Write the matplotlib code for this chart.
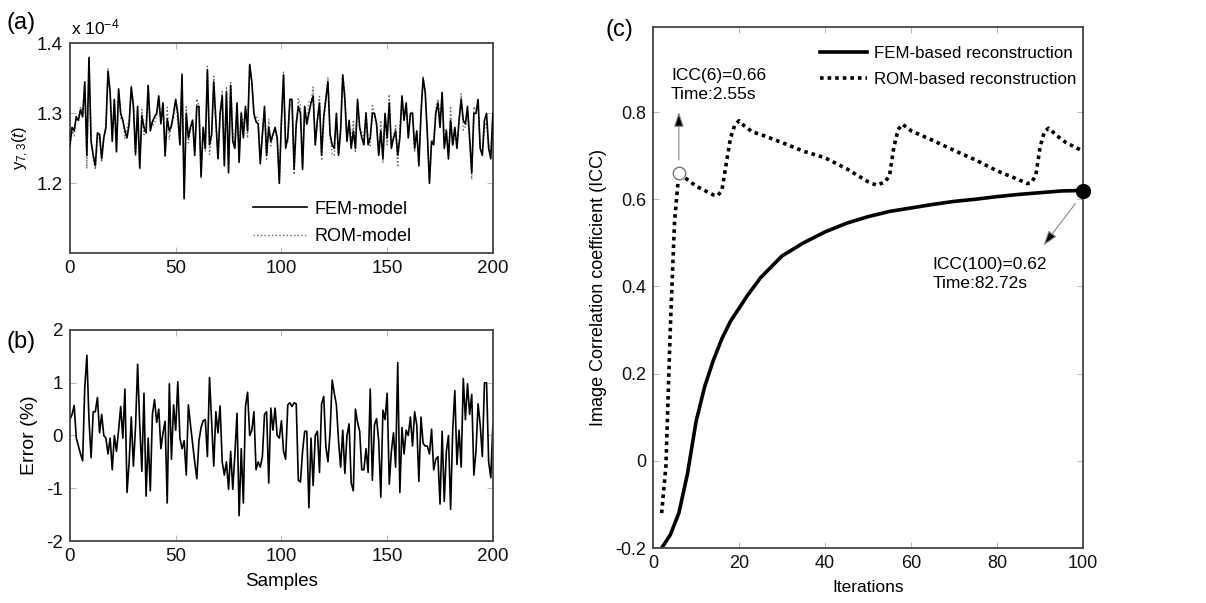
import numpy as np
import matplotlib
matplotlib.use('Agg')
import matplotlib.pyplot as plt

plt.rcParams['font.family'] = ['Liberation Sans', 'DejaVu Sans']
plt.rcParams['axes.unicode_minus'] = False
plt.rcParams['mathtext.fontset'] = 'custom'
plt.rcParams['mathtext.rm'] = 'Liberation Sans'
plt.rcParams['mathtext.it'] = 'Liberation Sans:italic'

# panel (a): output y_{7,3}(t), units of 1e-4
fem_y = [1.255, 1.28, 1.275, 1.295, 1.29, 1.305, 1.295, 1.345, 1.24, 1.38,
         1.26, 1.24, 1.225, 1.272, 1.27, 1.235, 1.265, 1.28, 1.36, 1.33,
         1.26, 1.32, 1.245, 1.335, 1.30, 1.29, 1.275, 1.265, 1.285, 1.338,
         1.31, 1.242, 1.31, 1.222, 1.297, 1.28, 1.272, 1.34, 1.275, 1.288,
         1.295, 1.30, 1.325, 1.285, 1.315, 1.24, 1.292, 1.275, 1.282, 1.30,
         1.32, 1.30, 1.255, 1.355, 1.178, 1.30, 1.265, 1.28, 1.29, 1.24,
         1.31, 1.31, 1.21, 1.28, 1.25, 1.362, 1.255, 1.27, 1.345, 1.29,
         1.235, 1.30, 1.325, 1.225, 1.33, 1.215, 1.34, 1.26, 1.25, 1.315,
         1.23, 1.30, 1.265, 1.31, 1.275, 1.37, 1.345, 1.30, 1.288, 1.285,
         1.228, 1.27, 1.31, 1.24, 1.28, 1.26, 1.27, 1.28, 1.265, 1.20,
         1.29, 1.355, 1.25, 1.265, 1.32, 1.32, 1.22, 1.285, 1.31, 1.30,
         1.22, 1.31, 1.285, 1.30, 1.315, 1.325, 1.255, 1.29, 1.315, 1.24,
         1.295, 1.32, 1.345, 1.27, 1.255, 1.25, 1.30, 1.24, 1.275, 1.355,
         1.32, 1.26, 1.29, 1.25, 1.275, 1.25, 1.32, 1.28, 1.265, 1.255,
         1.30, 1.255, 1.265, 1.30, 1.30, 1.285, 1.24, 1.275, 1.235, 1.30,
         1.265, 1.315, 1.25, 1.265, 1.275, 1.24, 1.265, 1.325, 1.29, 1.315,
         1.265, 1.30, 1.30, 1.25, 1.275, 1.225, 1.30, 1.35, 1.33, 1.27,
         1.20, 1.26, 1.255, 1.30, 1.315, 1.28, 1.33, 1.25, 1.275, 1.235,
         1.29, 1.255, 1.28, 1.25, 1.29, 1.32, 1.29, 1.285, 1.31, 1.265,
         1.215, 1.30, 1.30, 1.32, 1.25, 1.24, 1.29, 1.30, 1.25, 1.235,
         1.30]

# panel (b): relative error (%) between FEM and ROM
err_pct = [0.3, 0.4, 0.57, -0.05, -0.2, -0.35, -0.48, 0.9, 1.52, 0.3,
           -0.42, 0.45, 0.45, 0.72, 0.05, 0.4, 0.0, -0.05, -0.35, -0.05,
           -0.65, 0.0, -0.3, 0.1, 0.55, -0.05, 0.88, -1.08, -0.5, 0.35,
           -0.58, 0.15, 1.35, 0.2, -0.68, 0.8, -1.15, -0.05, -1.05, 0.4,
           0.68, 0.25, 0.5, -0.25, 0.05, 0.27, -1.28, 0.98, -0.45, 0.58,
           0.1, 1.02, -0.05, -0.25, -0.1, -0.75, 0.58, 0.2, -0.15, -0.5,
           -0.82, -0.1, 0.15, 0.28, 0.3, -0.4, 1.1, 0.25, -0.58, 0.45,
           0.05, 0.56, -0.5, -0.75, -0.5, -1.02, -0.3, -1.02, -0.35, 0.42,
           -1.52, -0.25, -1.28, 0.55, 0.82, 0.0, 0.1, 0.45, -0.65, -0.5,
           -0.6, -0.4, 0.4, 0.45, -0.9, 0.52, 0.1, 0.52, 0.0, -0.05,
           0.28, -0.3, -0.45, 0.58, 0.62, 0.55, 0.62, 0.6, -0.85, -0.88,
           -0.3, 0.08, 0.08, -1.37, -0.05, -0.95, 0.0, 0.08, -0.7, 0.6,
           0.74, -0.2, -0.5, 0.05, 1.05, 0.8, 0.58, -0.1, -0.6, 0.1,
           -0.72, 0.0, 0.22, -0.9, -1.05, 0.5, 0.25, 0.08, -0.65, -0.65,
           -0.25, -0.7, 0.88, -0.85, 0.2, 0.32, -0.1, -1.17, 0.48, 0.3,
           0.8, -0.92, -0.3, 0.05, -0.6, 1.38, -1.08, 0.15, -0.35, 0.1,
           0.0, 0.35, -0.2, 0.45, 0.2, -0.87, 0.35, -0.15, -0.2, -0.2,
           -0.35, 0.12, -0.65, -0.45, -0.4, -1.3, 0.08, -1.25, -0.3, 0.0,
           -1.4, 0.1, 0.85, -0.55, 0.1, -0.6, 1.08, 0.3, 0.98, 0.4,
           0.78, -0.75, -0.3, 0.6, 0.2, -0.4, 1.0, 1.0, -0.5, -0.8,
           0.22]

samples = np.arange(len(fem_y))
fem_y = np.array(fem_y)
err_pct = np.array(err_pct)
rom_y = fem_y * (1 - err_pct / 100)

# panel (c): ICC vs iterations
fem_iter = [2, 4, 6, 8, 10, 12, 14, 16, 18, 20, 22, 25, 30, 35, 40, 45, 50,
            55, 60, 65, 70, 75, 80, 85, 90, 95, 100]
fem_icc = [-0.20, -0.17, -0.12, -0.03, 0.09, 0.17, 0.23, 0.28, 0.32, 0.35,
           0.38, 0.42, 0.47, 0.50, 0.525, 0.545, 0.56, 0.572, 0.58, 0.588,
           0.595, 0.60, 0.606, 0.611, 0.615, 0.619, 0.62]
rom_iter = [2, 3, 4, 5, 6, 8, 10, 12, 14, 15, 16, 17, 18, 19, 20, 21, 23, 26,
            30, 35, 40, 45, 50, 52, 54, 55, 56, 57, 58, 60, 65, 70, 75, 80,
            85, 87, 88, 89, 90, 91, 92, 94, 96, 98, 100]
rom_icc = [-0.12, -0.01, 0.30, 0.55, 0.66, 0.645, 0.63, 0.62, 0.61, 0.608,
           0.62, 0.68, 0.74, 0.77, 0.78, 0.77, 0.755, 0.745, 0.73, 0.71,
           0.695, 0.67, 0.64, 0.632, 0.64, 0.655, 0.72, 0.76, 0.772, 0.757,
           0.735, 0.712, 0.69, 0.665, 0.645, 0.636, 0.638, 0.655, 0.72, 0.755,
           0.763, 0.745, 0.73, 0.72, 0.71]

fig = plt.figure(figsize=(12.06, 6.03), dpi=100)
ax_a = fig.add_axes([0.058, 0.580, 0.3507, 0.348])
ax_b = fig.add_axes([0.058, 0.1028, 0.3507, 0.350])
ax_c = fig.add_axes([0.5415, 0.0912, 0.3566, 0.864])


def style_axes(ax, size=13.5):
    for sp in ax.spines.values():
        sp.set_color('#444444')
        sp.set_linewidth(1.3)
    ax.tick_params(direction='in', top=True, right=True, length=4,
                   width=0.6, color='#aaaaaa', labelsize=size, pad=5,
                   labelcolor='#111111')


# (a)
ax_a.plot(samples, rom_y, ':', color='#666666', lw=1.0, label='ROM-model', zorder=2)
ax_a.plot(samples, fem_y, '-', color='black', lw=1.2, label='FEM-model', zorder=3)
ax_a.set_xlim(0, 200)
ax_a.set_ylim(1.1, 1.4)
ax_a.set_yticks([1.2, 1.3, 1.4])
ax_a.set_xticks([0, 50, 100, 150, 200])
ax_a.set_ylabel('$\\mathregular{y_{7,3}(}\\mathit{t}\\mathregular{)}$', fontsize=12, labelpad=4)
style_axes(ax_a)
h, l = ax_a.get_legend_handles_labels()
ax_a.legend(h[::-1], l[::-1], loc='lower left', bbox_to_anchor=(0.395, -0.04),
            frameon=False, fontsize=13, handlelength=3.0, handletextpad=0.4,
            labelspacing=0.6)
fig.text(0.059, 0.955, 'x 10$^{\\mathregular{-4}}$', fontsize=12.5, va='center')

# (b)
ax_b.plot(samples, err_pct, '-', color='black', lw=1.2)
ax_b.set_xlim(0, 200)
ax_b.set_ylim(-2, 2)
ax_b.set_yticks([-2, -1, 0, 1, 2])
ax_b.set_xticks([0, 50, 100, 150, 200])
ax_b.set_xlabel('Samples', fontsize=13.5, labelpad=6)
ax_b.set_ylabel('Error (%)', fontsize=14, labelpad=6)
style_axes(ax_b)

# (c)
ax_c.plot(fem_iter, fem_icc, '-', color='black', lw=2.6,
          label='FEM-based reconstruction')
ax_c.plot(rom_iter, rom_icc, linestyle=(0, (1, 1.1)), color='black', lw=2.6,
          label='ROM-based reconstruction')
ax_c.plot(6, 0.66, 'o', mfc='white', mec='#777777', ms=9, mew=1.0, zorder=5)
ax_c.plot(100, 0.62, 'o', color='black', ms=10, clip_on=False, zorder=5)
ax_c.set_xlim(0, 100)
ax_c.set_ylim(-0.2, 0.995)
ax_c.set_xticks([0, 20, 40, 60, 80, 100])
ax_c.set_yticks([-0.2, 0, 0.2, 0.4, 0.6, 0.8])
ax_c.set_yticklabels(['-0.2', '0', '0.2', '0.4', '0.6', '0.8'])
ax_c.set_xlabel('Iterations', fontsize=12.5, labelpad=6)
ax_c.set_ylabel('Image Correlation coefficient (ICC)', fontsize=13, labelpad=6)
style_axes(ax_c, size=13)
ax_c.legend(loc='upper left', bbox_to_anchor=(0.388, 0.9635), frameon=False,
            fontsize=12.2, handlelength=2.8, handletextpad=0.4,
            labelspacing=0.65, borderaxespad=0, borderpad=0)

arrow_kw = dict(arrowstyle='-|>,head_length=0.9,head_width=0.3', color='#888888',
                lw=0.8, shrinkA=0, shrinkB=0)
ax_c.annotate('', xy=(6, 0.80), xytext=(6, 0.69),
              arrowprops=dict(arrow_kw, fc='black', ec='#888888'))
ax_c.text(4.2, 0.862, 'ICC(6)=0.66\nTime:2.55s', fontsize=12.5, va='center',
          linespacing=1.3)
ax_c.annotate('', xy=(90.8, 0.494), xytext=(98.2, 0.59),
              arrowprops=dict(arrow_kw, fc='black', ec='#888888'))
ax_c.text(65.0, 0.428, 'ICC(100)=0.62\nTime:82.72s', fontsize=12.5, va='center',
          linespacing=1.3)

fig.text(0.005, 0.962, '(a)', fontsize=17, va='center')
fig.text(0.005, 0.433, '(b)', fontsize=17, va='center')
fig.text(0.502, 0.95, '(c)', fontsize=17, va='center')

fig.savefig('out.png', dpi=100)
